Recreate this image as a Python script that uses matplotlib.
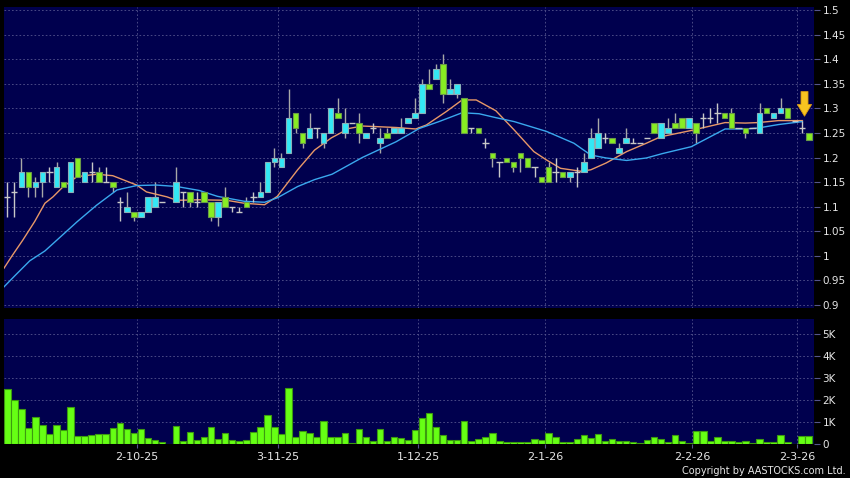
import numpy as np
import matplotlib
matplotlib.use("Agg")
import matplotlib.pyplot as plt

nan = np.nan
# ---- OHLC data (index = trading slot) ----
opens = [1.12,1.13,1.14,1.17,1.14,1.15,1.17,1.14,1.15,1.13,
         1.20,1.15,1.17,1.17,1.15,1.15,1.11,1.09,1.09,1.08,
         1.09,1.10,1.11,nan,1.11,1.13,1.13,1.11,1.13,1.11,
         1.08,1.12,1.10,1.09,1.11,1.12,1.12,1.13,1.19,1.18,
         1.21,1.29,1.25,1.24,1.26,1.23,1.25,1.29,1.25,1.27,
         1.27,1.24,1.26,1.23,1.25,1.25,1.25,1.27,1.28,1.29,
         1.35,1.36,1.39,1.33,1.33,1.32,1.26,1.26,1.23,1.21,
         1.19,1.20,1.19,1.21,1.20,1.18,1.16,1.18,1.17,1.17,
         1.16,1.17,1.17,1.20,1.22,1.24,1.24,1.21,1.23,1.23,
         1.23,1.24,1.27,1.24,1.25,1.27,1.28,1.26,1.27,1.28,
         1.28,1.29,1.29,1.29,1.26,1.26,1.26,1.25,1.30,1.28,
         1.29,1.30,1.275,1.26,1.25]
highs = [1.15,1.15,1.20,1.17,1.16,1.17,1.18,1.19,1.15,1.19,
         1.20,1.17,1.19,1.18,1.18,1.15,1.12,1.13,1.09,1.09,
         1.12,1.15,1.11,nan,1.18,1.13,1.13,1.13,1.13,1.11,
         1.11,1.14,1.10,1.10,1.12,1.13,1.15,1.19,1.22,1.21,
         1.34,1.29,1.25,1.29,1.26,1.25,1.30,1.32,1.30,1.27,
         1.29,1.25,1.27,1.26,1.26,1.26,1.28,1.28,1.32,1.36,
         1.38,1.39,1.41,1.36,1.35,1.32,1.26,1.26,1.24,1.21,
         1.19,1.20,1.19,1.21,1.20,1.18,1.16,1.19,1.20,1.17,
         1.17,1.18,1.21,1.26,1.28,1.25,1.24,1.23,1.26,1.24,
         1.23,1.24,1.27,1.27,1.28,1.29,1.28,1.28,1.27,1.29,
         1.30,1.31,1.29,1.30,1.26,1.26,1.26,1.31,1.30,1.29,
         1.32,1.30,1.275,1.275,1.25]
lows = [1.08,1.08,1.14,1.12,1.12,1.12,1.15,1.14,1.14,1.13,
        1.16,1.15,1.15,1.15,1.15,1.13,1.07,1.09,1.07,1.08,
        1.09,1.10,1.11,nan,1.11,1.10,1.10,1.10,1.11,1.07,
        1.06,1.10,1.09,1.09,1.10,1.11,1.12,1.13,1.18,1.18,
        1.21,1.25,1.22,1.24,1.24,1.22,1.25,1.28,1.24,1.27,
        1.23,1.24,1.25,1.21,1.24,1.25,1.25,1.27,1.28,1.29,
        1.34,1.36,1.31,1.33,1.32,1.25,1.25,1.25,1.22,1.18,
        1.16,1.19,1.17,1.17,1.18,1.16,1.15,1.15,1.15,1.16,
        1.15,1.14,1.17,1.20,1.22,1.23,1.23,1.21,1.23,1.23,
        1.23,1.24,1.25,1.24,1.25,1.26,1.26,1.26,1.23,1.26,
        1.27,1.27,1.28,1.26,1.26,1.24,1.26,1.25,1.29,1.28,
        1.29,1.28,1.275,1.25,1.235]
closes = [1.12,1.13,1.17,1.14,1.15,1.17,1.17,1.18,1.14,1.19,
          1.16,1.17,1.17,1.15,1.15,1.14,1.11,1.10,1.08,1.09,
          1.12,1.12,1.11,nan,1.15,1.13,1.11,1.11,1.11,1.08,
          1.11,1.10,1.10,1.09,1.10,1.12,1.13,1.19,1.20,1.20,
          1.28,1.26,1.23,1.26,1.26,1.25,1.30,1.28,1.27,1.27,
          1.25,1.25,1.26,1.24,1.24,1.26,1.26,1.28,1.29,1.35,
          1.34,1.38,1.33,1.34,1.35,1.25,1.26,1.25,1.23,1.20,
          1.19,1.19,1.18,1.20,1.18,1.18,1.15,1.15,1.17,1.16,
          1.17,1.17,1.19,1.24,1.25,1.24,1.23,1.22,1.24,1.23,
          1.23,1.24,1.25,1.27,1.26,1.26,1.26,1.28,1.25,1.28,
          1.28,1.29,1.28,1.26,1.26,1.25,1.26,1.29,1.29,1.29,
          1.30,1.28,1.275,1.26,1.235]
# volume in thousands
volume = [2.49,2.00,1.58,0.69,1.23,0.85,0.45,0.85,0.62,1.68,
          0.34,0.35,0.38,0.43,0.43,0.69,0.92,0.66,0.49,0.65,
          0.26,0.18,0.05,0.00,0.80,0.11,0.55,0.15,0.28,0.75,
          0.20,0.48,0.18,0.12,0.17,0.51,0.74,1.31,0.77,0.46,
          2.54,0.31,0.57,0.49,0.31,1.05,0.31,0.31,0.48,0.02,
          0.65,0.28,0.11,0.68,0.11,0.31,0.26,0.17,0.60,1.18,
          1.38,0.78,0.39,0.16,0.16,1.05,0.13,0.19,0.28,0.47,
          0.13,0.09,0.09,0.09,0.08,0.23,0.16,0.50,0.31,0.05,
          0.05,0.23,0.38,0.25,0.45,0.11,0.23,0.11,0.11,0.06,
          0.02,0.16,0.30,0.22,0.09,0.38,0.11,0.02,0.56,0.58,
          0.13,0.30,0.14,0.14,0.08,0.14,0.02,0.19,0.09,0.09,
          0.41,0.05,0.00,0.34,0.34]

# moving averages (slot position, value)
ma_short_x = [-0.47,0.67,2.2,3.9,5.35,6.5,7.9,9.9,12.7,15,18.4,19.8,22.7,24.1,27.3,31.2,
              33.7,36.6,38.4,41.3,43.7,46.1,48.6,50.5,55.3,58.1,59.6,62.4,64.7,66.7,69.5,
              72.1,74.9,76.7,78.7,81.6,83,85.2,88.1,90.9,92.9,97.3,102.1,105,106.8,109.7,113.1]
ma_short_y = [0.975,1.0,1.032,1.07,1.107,1.12,1.14,1.161,1.166,1.163,1.144,1.13,1.12,1.113,
              1.114,1.113,1.107,1.104,1.121,1.175,1.215,1.24,1.259,1.264,1.261,1.258,1.266,
              1.293,1.317,1.317,1.295,1.256,1.212,1.195,1.178,1.172,1.175,1.189,1.212,1.229,
              1.242,1.255,1.271,1.27,1.271,1.275,1.275]
ma_long_x = [-0.47,1.1,3.2,5.35,7.05,9.9,12.7,15.6,18.4,21.2,24.1,27.3,29.9,33.7,36.6,38.4,
             41.3,43.7,46.2,50.5,55.3,58.6,61.4,64.7,67.1,69.5,72.1,76.7,80.6,83,85.2,88.1,
             90.9,93.2,97.3,102.1,105,106.8,109.7,113.1]
ma_long_y = [0.937,0.96,0.99,1.01,1.032,1.069,1.103,1.134,1.143,1.144,1.141,1.133,1.121,
             1.111,1.109,1.118,1.141,1.155,1.166,1.20,1.232,1.259,1.273,1.291,1.289,1.281,
             1.273,1.253,1.229,1.205,1.199,1.194,1.199,1.208,1.222,1.258,1.258,1.26,1.267,1.273]

date_pos = [18.45, 38.45, 58.45, 76.5, 97.4, 112.4]
date_labels = ["2-10-25", "3-11-25", "1-12-25", "2-1-26", "2-2-26", "2-3-26"]
price_ticks = [0.9,0.95,1,1.05,1.1,1.15,1.2,1.25,1.3,1.35,1.4,1.45,1.5]
price_labels = ["0.9","0.95","1","1.05","1.1","1.15","1.2","1.25","1.3","1.35","1.4","1.45","1.5"]
vol_ticks = [0,1,2,3,4,5]
vol_labels = ["0","1K","2K","3K","4K","5K"]
arrow_slot = 113.4

# ---- styling ----
BG = "#000000"
PANEL = "#00004e"
GRID = "#55558e"
UP = "#33e8f5"
UP_EDGE = "#8ab0b8"
DN = "#88ee22"
DN_EDGE = "#6a9a48"
WICK = "#a8a8a8"
TXT = "#e6e6e6"

W, H = 850, 478
fig = plt.figure(figsize=(W/100, H/100), dpi=100, facecolor=BG)

def frac(l, t, r, b):
    return [l/W, 1-b/H, (r-l)/W, (b-t)/H]

ax = fig.add_axes(frac(4, 7, 814, 308))
axv = fig.add_axes(frac(4, 319, 814, 444))

n = len(closes)
idx = np.arange(n)
o = np.array(opens); h = np.array(highs); l = np.array(lows); c = np.array(closes)

DASH = (0, (2.0, 2.5))
for a in (ax, axv):
    a.set_facecolor(PANEL)
    for s in a.spines.values():
        s.set_visible(False)
    a.set_xlim(-0.47, 114.75)
    for xp in date_pos:
        a.axvline(xp, color=GRID, lw=0.6, ls=DASH, zorder=1)
    a.yaxis.tick_right()
    a.tick_params(axis='y', colors=GRID, labelcolor=TXT, length=4, width=0.8,
                  pad=2, labelsize=7.5)

# price grid
for yv in price_ticks:
    ax.axhline(yv, color=GRID, lw=0.6, ls=DASH, zorder=1)
ax.set_ylim(0.894, 1.506)
ax.set_yticks(price_ticks)
ax.set_yticklabels(price_labels)
ax.set_xticks([])

# MAs
ax.plot(ma_short_x, ma_short_y, color="#e89868", lw=1.0, zorder=3)
ax.plot(ma_long_x, ma_long_y, color="#3aa8ee", lw=1.0, zorder=3)

# candles
valid = ~np.isnan(c)
doji = valid & (np.abs(c - o) < 1e-9)
up = valid & (c > o + 1e-9)
dn = valid & (c < o - 1e-9)
bw = 0.8
ax.vlines(idx[valid & ~doji], l[valid & ~doji], h[valid & ~doji], color=WICK, lw=1.0, zorder=2)
ax.bar(idx[up], (c - o)[up], bottom=o[up], width=bw, color=UP, edgecolor=UP_EDGE, lw=0.8, zorder=4)
ax.bar(idx[dn], (o - c)[dn], bottom=c[dn], width=bw, color=DN, edgecolor=DN_EDGE, lw=0.8, zorder=4)
ax.vlines(idx[doji], l[doji], h[doji], color="#c8c8c8", lw=1.0, zorder=4)
ax.hlines(c[doji], idx[doji] - 0.45, idx[doji] + 0.45, color="#c8c8c8", lw=1.0, zorder=4)

# yellow arrow
ax.annotate("", xy=(arrow_slot, 1.284), xytext=(arrow_slot, 1.334),
            arrowprops=dict(arrowstyle="simple,head_length=0.7,head_width=0.85,tail_width=0.42",
                            fc="#f8c420", ec="#d89a10", lw=0.6, mutation_scale=12,
                            shrinkA=0, shrinkB=0), zorder=6)

# volume
for yv in vol_ticks[1:]:
    axv.axhline(yv, color=GRID, lw=0.6, ls=DASH, zorder=1)
axv.bar(idx, volume, width=0.92, color="#66ff14", edgecolor="#3c9a10", lw=0.8, zorder=3)
axv.set_ylim(-0.02, 5.7)
axv.set_yticks(vol_ticks)
axv.set_yticklabels(vol_labels)
axv.set_xticks(date_pos)
axv.set_xticklabels(date_labels)
axv.tick_params(axis='x', colors=GRID, labelcolor=TXT, length=3, width=0.8,
                pad=3, labelsize=8)

fig.text(846/W, 1-471/H, "Copyright by AASTOCKS.com Ltd.", color=TXT, fontsize=7,
         ha="right", va="center")

fig.savefig("out.png", dpi=100, facecolor=BG)
